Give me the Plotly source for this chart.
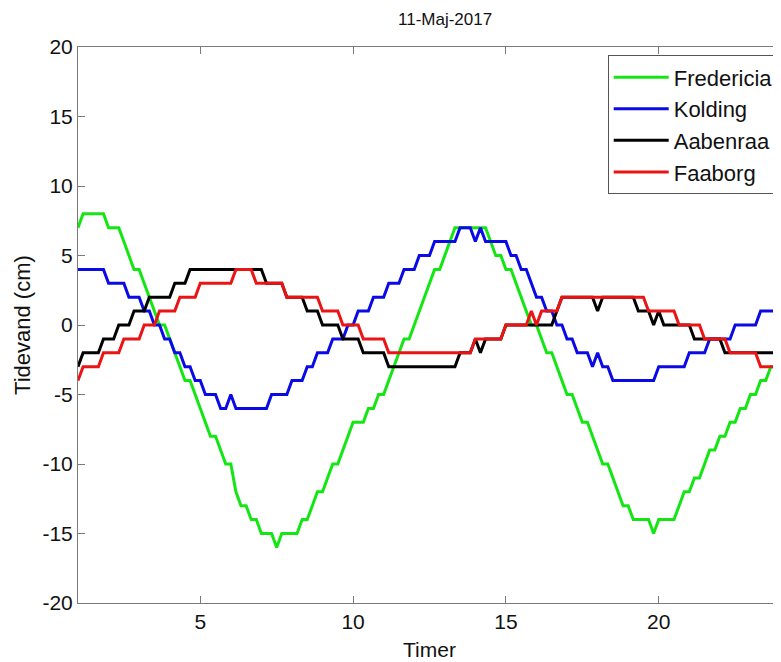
import plotly.graph_objects as go

# ---- data (cm), sampled every 10 minutes from hour 1 to hour 24 ----
title_text = "11-Maj-2017"
series_names = ["Fredericia", "Kolding", "Aabenraa", "Faaborg"]
series_colors = ["rgb(20,230,20)", "rgb(10,10,230)", "rgb(0,0,0)", "rgb(235,20,20)"]

fredericia = [
    7, 8, 8, 8, 8, 8, 7, 7, 7, 6,
    5, 4, 4, 3, 2, 1, 0, 0, -1, -2,
    -3, -4, -4, -5, -6, -7, -8, -8, -9, -10,
    -10, -12, -13, -13, -14, -14, -15, -15, -15, -16,
    -15, -15, -15, -15, -14, -14, -13, -12, -12, -11,
    -10, -10, -9, -8, -7, -7, -7, -6, -6, -5,
    -5, -4, -3, -2, -1, -1, 0, 1, 2, 3,
    4, 4, 5, 6, 7, 7, 7, 7, 7, 7,
    7, 6, 5, 5, 4, 4, 3, 2, 1, 0,
    0, -1, -2, -2, -3, -4, -5, -5, -6, -7,
    -7, -8, -9, -10, -10, -11, -12, -13, -13, -14,
    -14, -14, -14, -15, -14, -14, -14, -14, -13, -12,
    -12, -11, -11, -10, -9, -9, -8, -8, -7, -7,
    -6, -6, -5, -5, -4, -4, -3, -3, -3,
]

kolding = [
    4, 4, 4, 4, 4, 4, 3, 3, 3, 3,
    2, 2, 2, 1, 1, 0, 0, -1, -1, -2,
    -2, -3, -3, -4, -4, -5, -5, -5, -6, -6,
    -5, -6, -6, -6, -6, -6, -6, -6, -5, -5,
    -5, -5, -4, -4, -4, -3, -3, -2, -2, -2,
    -1, -1, -1, 0, 0, 1, 1, 1, 2, 2,
    2, 3, 3, 3, 4, 4, 4, 5, 5, 5,
    6, 6, 6, 6, 6, 7, 7, 7, 6, 7,
    6, 6, 6, 6, 6, 5, 5, 4, 4, 3,
    2, 2, 1, 1, 0, 0, -1, -1, -2, -2,
    -2, -3, -2, -3, -3, -4, -4, -4, -4, -4,
    -4, -4, -4, -4, -3, -3, -3, -3, -3, -3,
    -2, -2, -2, -2, -1, -1, -1, -1, -1, 0,
    0, 0, 0, 0, 1, 1, 1, 1, 1,
]

aabenraa = [
    -3, -2, -2, -2, -2, -1, -1, -1, 0, 0,
    0, 1, 1, 1, 2, 2, 2, 2, 2, 3,
    3, 3, 4, 4, 4, 4, 4, 4, 4, 4,
    4, 4, 4, 4, 4, 4, 4, 3, 3, 3,
    3, 2, 2, 2, 2, 1, 1, 1, 0, 0,
    0, 0, -1, -1, -1, -1, -2, -2, -2, -2,
    -2, -3, -3, -3, -3, -3, -3, -3, -3, -3,
    -3, -3, -3, -3, -3, -2, -2, -2, -1, -2,
    -1, -1, -1, -1, 0, 0, 0, 0, 0, 0,
    0, 0, 0, 0, 1, 2, 2, 2, 2, 2,
    2, 2, 1, 2, 2, 2, 2, 2, 2, 2,
    1, 1, 1, 0, 1, 0, 0, 0, 0, 0,
    0, -1, -1, -1, -1, -1, -1, -2, -2, -2,
    -2, -2, -2, -2, -2, -2, -2, -2, -2,
]

faaborg = [
    -4, -3, -3, -3, -3, -2, -2, -2, -2, -1,
    -1, -1, -1, 0, 0, 0, 1, 1, 1, 1,
    2, 2, 2, 2, 3, 3, 3, 3, 3, 3,
    3, 4, 4, 4, 4, 3, 3, 3, 3, 3,
    3, 2, 2, 2, 2, 2, 2, 2, 1, 1,
    1, 1, 0, 0, 0, 0, -1, -1, -1, -1,
    -1, -2, -2, -2, -2, -2, -2, -2, -2, -2,
    -2, -2, -2, -2, -2, -2, -2, -2, -1, -1,
    -1, -1, -1, -1, 0, 0, 0, 0, 0, 1,
    0, 1, 1, 1, 1, 2, 2, 2, 2, 2,
    2, 2, 2, 2, 2, 2, 2, 2, 2, 2,
    2, 2, 1, 1, 1, 1, 1, 1, 0, 0,
    0, 0, 0, -1, -1, -1, -1, -1, -2, -2,
    -2, -2, -2, -2, -3, -3, -3, -3, -3,
]

first_hour = 1.0
samples_per_hour = 6
timer = [first_hour + i / samples_per_hour for i in range(len(fredericia))]

x_ticks = [5, 10, 15, 20]
y_ticks = [-20, -15, -10, -5, 0, 5, 10, 15, 20]
y_tick_labels = ["-20", "-15", "-10", "-5", "0", "5", "10", "15", "20"]

FONT = "Liberation Sans, Arial, Helvetica, sans-serif"

fig = go.Figure()
for name, vals, col in zip(series_names, [fredericia, kolding, aabenraa, faaborg], series_colors):
    fig.add_trace(go.Scatter(
        x=timer, y=vals, mode="lines", name=name, legendgroup=name,
        line=dict(color=col, width=3),
    ))

axis_common = dict(
    showline=True, linecolor="#7a7a7a", linewidth=1, mirror="ticks",
    ticks="inside", ticklen=7, tickcolor="#7a7a7a", tickwidth=1,
    showgrid=False, zeroline=False,
    tickfont=dict(family=FONT, size=21, color="#111"),
)

# The page body adds an 8px offset, so the figure is sized to fit the window.
fig.update_layout(
    width=773, height=654,
    margin=dict(l=70, r=0, t=39, b=59),
    paper_bgcolor="white", plot_bgcolor="white",
    font=dict(family=FONT, color="#111"),
    xaxis=dict(range=[1, 24], tickvals=x_ticks, **axis_common),
    yaxis=dict(range=[-20, 20], tickvals=y_ticks, ticktext=y_tick_labels, **axis_common),
    showlegend=True,
    legend=dict(
        x=0.7535, y=0.985, xanchor="left", yanchor="top",
        bgcolor="white", bordercolor="#555", borderwidth=1,
        font=dict(family=FONT, size=22, color="#111"),
        tracegroupgap=0, itemwidth=55,
    ),
    annotations=[
        dict(text=title_text, xref="paper", yref="paper", x=0.522, y=1.049,
             xanchor="center", yanchor="middle", showarrow=False,
             font=dict(family=FONT, size=17, color="#111")),
        dict(text="Timer", xref="paper", yref="paper", x=0.5, y=-0.084,
             xanchor="center", yanchor="middle", showarrow=False,
             font=dict(family=FONT, size=21, color="#111")),
        dict(text="Tidevand (cm)", xref="paper", yref="paper", x=-0.0797, y=0.5,
             xanchor="center", yanchor="middle", showarrow=False, textangle=-90,
             font=dict(family=FONT, size=22, color="#111")),
    ],
)

fig.write_html("out.html")
